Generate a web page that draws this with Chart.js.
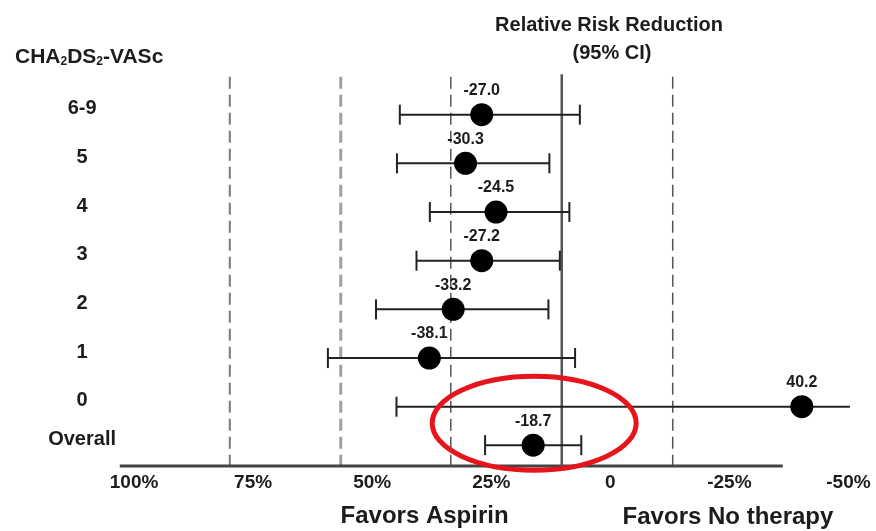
<!DOCTYPE html>
<html>
<head>
<meta charset="utf-8">
<script src="https://cdn.jsdelivr.net/npm/chart.js@4/dist/chart.umd.min.js"></script>
<style>
  html, body { margin: 0; padding: 0; background: #fff; }
  #wrap { width: 876px; height: 531px; }
</style>
</head>
<body>
<div id="wrap"><canvas id="chart" width="876" height="531"></canvas></div>
<script>
// rows of the forest plot, top to bottom
const rows = ['6-9', '5', '4', '3', '2', '1', '0', 'Overall'];
// relative risk reduction (point estimate)
const rrr = [27.0, 30.4, 24.0, 27.0, 33.0, 38.0, -40.2, 16.2];
const rrrLabels = ['-27.0', '-30.3', '-24.5', '-27.2', '-33.2', '-38.1', '40.2', '-18.7'];
// 95% CI ends
const ciUpper = [44.2, 44.8, 37.9, 40.7, 49.2, 59.3, 44.9, 26.3];
const ciLower = [6.4, 12.8, 8.6, 10.6, 13.0, 7.4, -50.3, 6.1];
const openEnded = [false, false, false, false, false, false, true, false];
// x axis
const tickValues = [100, 75, 50, 25, 0, -25, -50];
const dashedRefs = [79.9, 56.6, 33.5, -13.1];
const solidRef = [10.2];
const axisSpan = [103.0, -36.2];

const FONT = '"Liberation Sans", Arial, sans-serif';
const INK = '#1c1c1c';

// Overall row sits a bit closer to the row above it
const rowPos = i => (i === rows.length - 1 ? i - 0.21 : i);
const lineTop = -0.78;
const lineBottom = 7.22;

const refStyles = [
  { color: '#7a7a7a', width: 2 },
  { color: '#a0a0a0', width: 3 },
  { color: '#555', width: 1.5 },
  { color: '#555', width: 1.5 }
];

const datasets = [];

datasets.push({
  type: 'scatter',
  data: rrr.map((v, i) => ({ x: v, y: rowPos(i) })),
  pointRadius: 11.5,
  pointHoverRadius: 11.5,
  backgroundColor: '#000',
  borderWidth: 0,
  order: 0
});

rows.forEach((r, i) => {
  datasets.push({
    type: 'line',
    data: [{ x: ciUpper[i], y: rowPos(i) }, { x: ciLower[i], y: rowPos(i) }],
    borderColor: '#222',
    borderWidth: 2,
    pointStyle: 'line',
    rotation: 90,
    pointRadius: [10, openEnded[i] ? 0 : 10],
    pointBorderColor: '#222',
    pointBorderWidth: 2,
    order: 1
  });
});

dashedRefs.forEach((v, i) => {
  datasets.push({
    type: 'line',
    data: [{ x: v, y: lineTop }, { x: v, y: lineBottom }],
    borderColor: refStyles[i].color,
    borderWidth: refStyles[i].width,
    borderDash: [12, 6],
    pointRadius: 0,
    order: 3
  });
});

solidRef.forEach(v => {
  datasets.push({
    type: 'line',
    data: [{ x: v, y: lineTop - 0.05 }, { x: v, y: lineBottom }],
    borderColor: '#555',
    borderWidth: 2.5,
    pointRadius: 0,
    order: 2
  });
});

datasets.push({
  type: 'line',
  data: [{ x: axisSpan[0], y: lineBottom }, { x: axisSpan[1], y: lineBottom }],
  borderColor: '#444',
  borderWidth: 3,
  pointRadius: 0,
  order: 2
});

// text that is not part of the axes
const annotations = {
  id: 'annotations',
  afterDatasetsDraw(chart) {
    const ctx = chart.ctx;
    const xs = chart.scales.x;
    ctx.save();
    ctx.fillStyle = INK;
    ctx.textAlign = 'center';
    ctx.textBaseline = 'middle';

    // value labels above each point
    ctx.font = 'bold 16px ' + FONT;
    const pts = chart.getDatasetMeta(0).data;
    pts.forEach((p, i) => {
      ctx.fillText(rrrLabels[i], p.x, p.y - 24);
    });

    // highlight ring round the overall estimate
    const last = pts[pts.length - 1];
    ctx.strokeStyle = '#e8141b';
    ctx.lineWidth = 5;
    ctx.beginPath();
    ctx.ellipse(last.x + 1, last.y - 22, 102, 47, 0, 0, Math.PI * 2);
    ctx.stroke();

    // column headers
    ctx.font = 'bold 20px ' + FONT;
    ctx.fillText('Relative Risk Reduction', 609, 25);
    ctx.fillText('(95% CI)', 612, 53);

    // CHA2DS2-VASc with subscripts
    const parts = [['CHA', false], ['2', true], ['DS', false], ['2', true], ['-VASc', false]];
    let x = 15;
    const base = 57;
    ctx.textAlign = 'left';
    parts.forEach(([t, sub]) => {
      ctx.font = sub ? 'bold 12px ' + FONT : 'bold 21px ' + FONT;
      ctx.fillText(t, x, sub ? base + 5 : base);
      x += ctx.measureText(t).width;
    });

    // favour labels below the axis
    ctx.textAlign = 'center';
    ctx.font = 'bold 24px ' + FONT;
    ctx.fillText('Favors Aspirin', xs.getPixelForValue(39), 516);
    ctx.fillText('Favors No therapy', xs.getPixelForValue(-24.7), 517);
    ctx.restore();
  }
};

new Chart(document.getElementById('chart'), {
  type: 'scatter',
  data: { datasets },
  options: {
    responsive: false,
    animation: false,
    events: [],
    layout: { padding: { left: 0, right: 18, top: 66, bottom: 31 } },
    plugins: {
      legend: { display: false },
      tooltip: { enabled: false }
    },
    scales: {
      x: {
        type: 'linear',
        reverse: true,
        min: -52,
        max: 104,
        grid: { display: false },
        border: { display: false },
        afterBuildTicks: scale => { scale.ticks = tickValues.map(v => ({ value: v })); },
        afterFit: scale => { scale.height = 30; },
        ticks: {
          autoSkip: false,
          maxRotation: 0,
          padding: -7,
          color: INK,
          font: { family: FONT, size: 19, weight: 'bold' },
          callback: v => (v === 0 ? '0' : v + '%')
        }
      },
      y: {
        type: 'linear',
        reverse: true,
        min: -1,
        max: 7.3,
        grid: { display: false },
        border: { display: false },
        afterBuildTicks: scale => { scale.ticks = rows.map((r, i) => ({ value: rowPos(i) })); },
        afterFit: scale => { scale.width = 115; },
        ticks: {
          autoSkip: false,
          padding: -9,
          crossAlign: 'center',
          labelOffset: -6,
          color: INK,
          font: { family: FONT, size: 20, weight: 'bold' },
          callback: (v, i) => rows[i]
        }
      }
    }
  },
  plugins: [annotations]
});
</script>
</body>
</html>
